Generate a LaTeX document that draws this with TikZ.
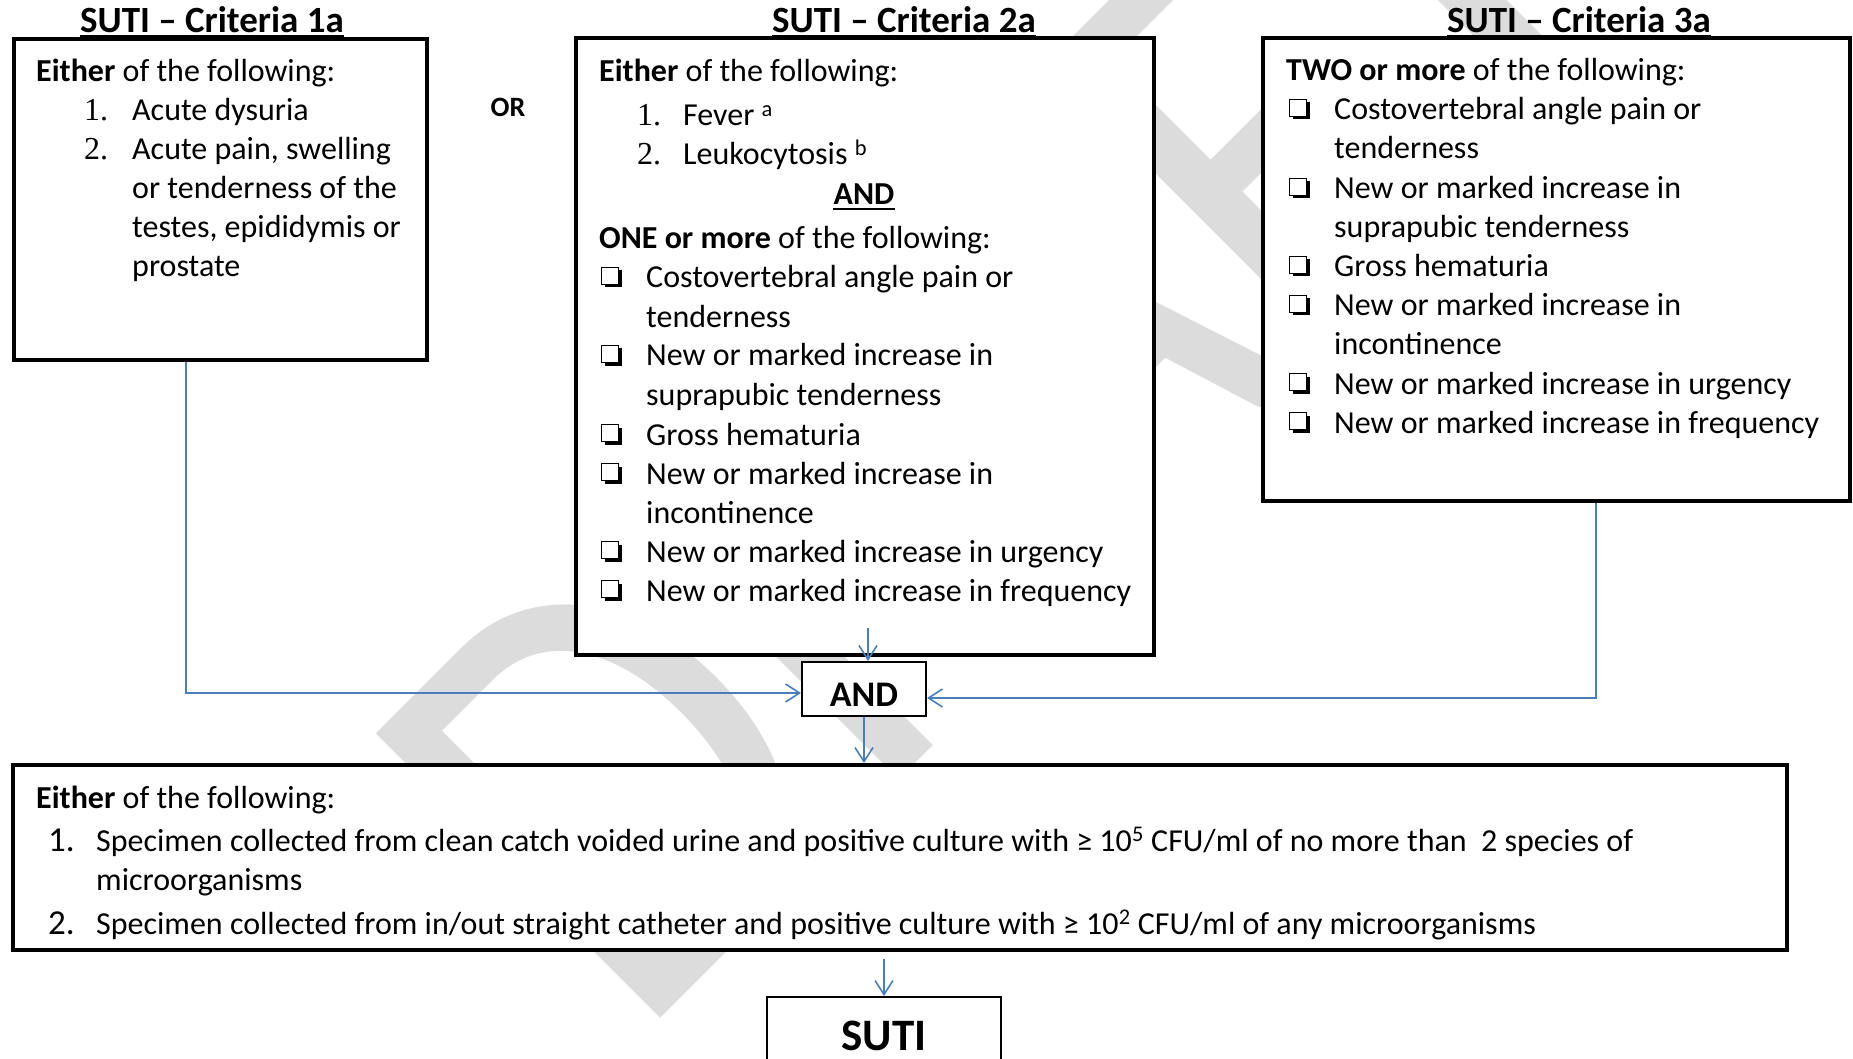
\documentclass[tikz,border=0pt]{standalone}
\usepackage{fontspec}
\setmainfont{Carlito}
\newfontfamily\serifnum{Liberation Serif}
\usetikzlibrary{arrows.meta,shadows}
\definecolor{wm}{RGB}{220,220,220}
\definecolor{conn}{RGB}{74,126,187}
\begin{document}
\begin{tikzpicture}[x=1pt,y=-1pt,
  bigbox/.style={draw=black, line width=4pt, fill=white, inner sep=0pt},
  smallbox/.style={draw=black, line width=2pt, fill=white, inner sep=0pt},
  txt/.style={anchor=base west, inner sep=0pt, font=\fontsize{32}{39}\selectfont},
  num/.style={anchor=base west, inner sep=0pt, font=\fontsize{32}{39}\serifnum},
  cbox/.style={draw=black, line width=1.6pt, fill=white, inner sep=0pt, minimum size=17pt,
     drop shadow={shadow xshift=3pt, shadow yshift=-3pt, fill=black, opacity=1}},
  bignum/.style={anchor=base west, inner sep=0pt, font=\fontsize{35}{39}\selectfont},
  title/.style={anchor=base, inner sep=0pt, font=\fontsize{37}{40}\selectfont\bfseries},
  uline/.style={line width=2.5pt},
  connector/.style={draw=conn, line width=1.6pt, -{Straight Barb[length=14pt,width=18pt]}},
]
\useasboundingbox (0,0) rectangle (1853,1059);

% watermark
\node[rotate=45, anchor=base west, inner sep=0pt, text=wm,
      font=\fontsize{627}{627}\selectfont] (wmark) at (634,1045) {\scalebox{0.87}[1]{DRAFT}};

% boxes
\node[bigbox, minimum width=413pt, minimum height=321pt] (box1) at (220.5,199.5) {};
\node[bigbox, minimum width=578pt, minimum height=617pt] (box2) at (865,346.5) {};
\node[bigbox, minimum width=587pt, minimum height=463pt] (box3) at (1556.5,269.5) {};
\node[smallbox, minimum width=124pt, minimum height=54pt] (andbox) at (864,689) {};
\node[bigbox, minimum width=1774pt, minimum height=185pt] (bottom) at (900,857.5) {};
\node[smallbox, minimum width=234pt, minimum height=103pt] (suti) at (884,1048.5) {};

% titles
\node[title] (ti1) at (212,33) {SUTI – Criteria 1a};
\node[title] (ti2) at (904,33) {SUTI – Criteria 2a};
\node[title] (ti3) at (1579,33) {SUTI – Criteria 3a};
\draw[uline] ([yshift=-3pt]ti1.base west) -- ([yshift=-3pt]ti1.base east);
\draw[uline] ([yshift=-3pt]ti2.base west) -- ([yshift=-3pt]ti2.base east);
\draw[uline] ([yshift=-3pt]ti3.base west) -- ([yshift=-3pt]ti3.base east);

\node[anchor=base, inner sep=0pt, font=\fontsize{28}{30}\selectfont\bfseries] (or) at (508,117) {OR};

% box 1
\node[txt] (a0) at (36,82) {\textbf{Either} of the following:};
\node[num] (a1n) at (84,121) {1.};
\node[txt] (a1) at (132,121) {Acute dysuria};
\node[num] (a2n) at (84,160) {2.};
\node[txt] (a2) at (132,160) {Acute pain, swelling};
\node[txt] (a3) at (132,199) {or tenderness of the};
\node[txt] (a4) at (132,238) {testes, epididymis or};
\node[txt] (a5) at (132,277) {prostate};

% box 2
\node[txt] (b0) at (599,82) {\textbf{Either} of the following:};
\node[num] (b1n) at (637,126) {1.};
\node[txt] (b1) at (683,126) {Fever \textsuperscript{a}};
\node[num] (b2n) at (637,165) {2.};
\node[txt] (b2) at (683,165) {Leukocytosis \textsuperscript{b}};
\node[txt, anchor=base, font=\fontsize{32}{39}\selectfont\bfseries] (band) at (864,205) {AND};
\draw[uline, line width=2pt] ([yshift=-4pt]band.base west) -- ([yshift=-4pt]band.base east);
\node[txt] (b3) at (599,249) {\textbf{ONE or more} of the following:};
\node[cbox] (b4c) at (610,276) {};
\node[txt] (b4) at (646,288) {Costovertebral angle pain or};
\node[txt] (b5) at (646,327) {tenderness};
\node[cbox] (b6c) at (610,354) {};
\node[txt] (b6) at (646,366) {New or marked increase in};
\node[txt] (b7) at (646,405) {suprapubic tenderness};
\node[cbox] (b8c) at (610,433) {};
\node[txt] (b8) at (646,445) {Gross hematuria};
\node[cbox] (b9c) at (610,472) {};
\node[txt] (b9) at (646,484) {New or marked increase in};
\node[txt] (b10) at (646,523) {incontinence};
\node[cbox] (b11c) at (610,550) {};
\node[txt] (b11) at (646,562) {New or marked increase in urgency};
\node[cbox] (b12c) at (610,589) {};
\node[txt] (b12) at (646,601) {New or marked increase in frequency};

% box 3
\node[txt] (c0) at (1286,81) {\textbf{TWO or more} of the following:};
\node[cbox] (c1c) at (1298,108) {};
\node[txt] (c1) at (1334,120) {Costovertebral angle pain or};
\node[txt] (c2) at (1334,159) {tenderness};
\node[cbox] (c3c) at (1298,187) {};
\node[txt] (c3) at (1334,199) {New or marked increase in};
\node[txt] (c4) at (1334,238) {suprapubic tenderness};
\node[cbox] (c5c) at (1298,265) {};
\node[txt] (c5) at (1334,277) {Gross hematuria};
\node[cbox] (c6c) at (1298,304) {};
\node[txt] (c6) at (1334,316) {New or marked increase in};
\node[txt] (c7) at (1334,355) {incontinence};
\node[cbox] (c8c) at (1298,382) {};
\node[txt] (c8) at (1334,394) {New or marked increase in urgency};
\node[cbox] (c9c) at (1298,421) {};
\node[txt] (c9) at (1334,433) {New or marked increase in frequency};

% AND and SUTI labels
\node[anchor=base, inner sep=0pt, font=\fontsize{36}{40}\selectfont\bfseries] (andlbl) at (864,706) {AND};
\node[anchor=base, inner sep=0pt, font=\fontsize{45}{50}\selectfont\bfseries] (sutilbl) at (884,1050) {SUTI};

% bottom box
\node[txt] (d0) at (36,808) {\textbf{Either} of the following:};
\node[bignum] (d1n) at (48,851) {1.};
\node[txt] (d1) at (96,851) {Specimen collected from clean catch voided urine and positive culture with ≥ 10\textsuperscript{5} CFU/ml of no more than\ \ 2 species of};
\node[txt] (d2) at (96,890) {microorganisms};
\node[bignum] (d3n) at (48,934) {2.};
\node[txt] (d3) at (96,934) {Specimen collected from in/out straight catheter and positive culture with ≥ 10\textsuperscript{2} CFU/ml of any microorganisms};

% connectors
\coordinate (j1) at (186,693);
\coordinate (j3) at (1596,698);
\coordinate (s2) at (868,628);
\draw[connector] (box1.south -| j1) |- (andbox.west |- j1);
\draw[connector] (box3.south -| j3) |- (andbox.east |- j3);
\draw[connector] (s2) -- (s2 |- andbox.north);
\draw[connector] (andbox.south) -- (andbox.south |- bottom.north);
\draw[connector, shorten <=7pt] (bottom.south -| suti.north) -- (suti.north);
\end{tikzpicture}
\end{document}
